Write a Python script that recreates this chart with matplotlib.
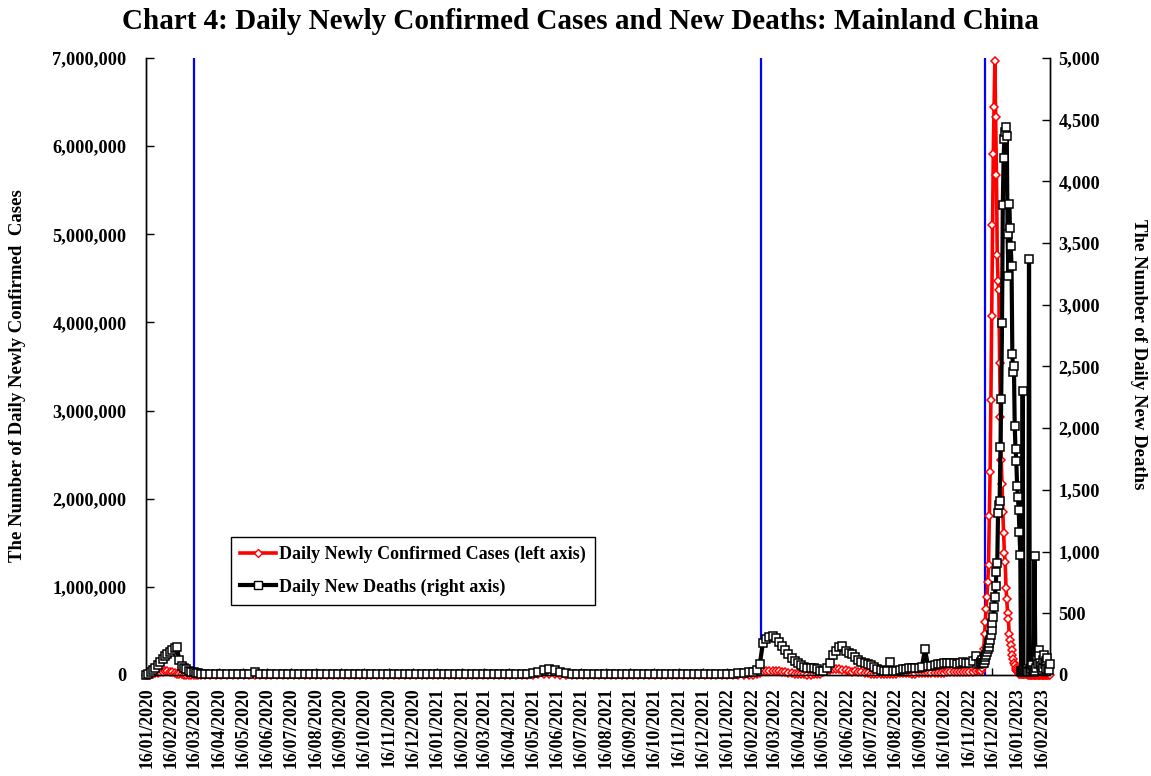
"""Chart 4: daily newly confirmed cases and new deaths in mainland China."""

import matplotlib

matplotlib.use("Agg")
import matplotlib.dates as mdates
import matplotlib.pyplot as plt
import pandas as pd
from matplotlib.lines import Line2D
from matplotlib.ticker import FuncFormatter, MultipleLocator

plt.rcParams["font.family"] = ["Liberation Serif", "DejaVu Serif"]
plt.rcParams["font.weight"] = "bold"

# --- data ----------------------------------------------------------------
# early 2020 outbreak, one reading every 3 days from 15/01/2020
wave2020_start = "2020-01-15"
wave2020_cases = [0, 2000, 6000, 12000, 18000, 24000, 30000, 35000, 40000, 42000,
                  38000, 30000, 22000, 15000, 9000, 6000, 4000, 2500, 1500, 1000,
                  800, 600, 500, 400]
wave2020_deaths = [0, 6, 20, 40, 60, 82, 105, 128, 150, 172,
                   190, 205, 218, 228, 120, 72, 55, 45, 35, 27,
                   20, 15, 12, 10]

# quiet period, weekly from 29/03/2020
quiet_start = "2020-03-29"
quiet_cases = [800, 600, 500, 400, 300, 300, 200, 200, 200, 200,
               300, 400, 300, 300, 200, 500, 800, 600, 400, 300,
               300, 200, 200, 200, 200, 200, 200, 200, 300, 300,
               300, 300, 200, 200, 300, 300, 400, 500, 600, 800,
               1200, 1500, 1500, 1000, 600, 400, 300, 200, 200, 200,
               200, 200, 200, 200, 200, 300, 400, 600, 2000, 5000,
               8000, 10000, 9000, 7000, 5000, 3000, 2000, 1500, 1500, 2000,
               2500, 1500, 1000, 800, 600, 500, 500, 600, 800, 1000,
               1200, 1500, 1800, 2000, 2500, 3000, 3000, 2500, 3000, 3500,
               4000, 4500, 3000, 2500, 2500, 3000, 3500, 4000, 4500]
quiet_deaths = [8, 7, 6, 6, 6, 5, 5, 6, 5, 25,
                4, 5, 6, 5, 5, 5, 4, 5, 5, 6,
                5, 5, 5, 4, 5, 5, 6, 5, 5, 5,
                4, 5, 5, 6, 5, 5, 5, 4, 5, 5,
                6, 5, 5, 5, 4, 5, 5, 6, 5, 5,
                5, 4, 5, 5, 6, 5, 5, 5, 8, 12,
                25, 40, 45, 40, 25, 12, 6, 5, 5, 5,
                4, 5, 5, 6, 5, 5, 5, 4, 5, 5,
                6, 5, 5, 5, 4, 5, 6, 5, 5, 5,
                6, 5, 6, 7, 8, 10, 12, 16, 20]

# 2022 spring and summer waves, every 4 days from 18/02/2022
wave2022_start = "2022-02-18"
wave2022_cases = [5000, 10000, 20000, 40000, 45000, 48000, 45000, 42000, 40000, 35000,
                  30000, 25000, 20000, 15000, 10000, 8000, 6000, 5000, 5000, 6000,
                  8000, 15000, 30000, 45000, 60000, 65000, 70000, 65000, 60000, 55000,
                  45000, 30000, 40000, 35000, 30000, 25000, 20000, 15000, 10000, 8000,
                  6000, 8000, 10000, 12000, 15000, 15000, 18000, 20000, 20000, 18000,
                  15000, 15000, 18000, 20000, 22000, 20000, 18000, 20000, 22000, 25000,
                  25000, 28000, 30000, 30000, 28000, 30000, 32000, 35000, 35000, 38000,
                  40000, 40000]
wave2022_deaths = [20, 40, 90, 259, 290, 310, 312, 302, 270, 235,
                   203, 170, 140, 112, 95, 80, 65, 55, 60, 55,
                   50, 30, 35, 60, 97, 162, 195, 225, 232, 195,
                   182, 172, 145, 125, 108, 95, 88, 80, 65, 50,
                   40, 35, 30, 108, 30, 35, 40, 45, 50, 55,
                   55, 60, 60, 65, 208, 70, 75, 80, 85, 90,
                   95, 100, 100, 95, 90, 100, 105, 95, 100, 110,
                   150, 90]

# reopening wave, daily from 01/12/2022
exit_start = "2022-12-01"
exit_cases = [40000, 50000, 80000, 150000, 300000, 470000, 600000, 750000, 890000, 1050000,
              1250000, 1800000, 2300000, 3120000, 4070000, 5110000, 5910000, 6440000, 6970000, 6330000,
              5670000, 4770000, 4470000, 4370000, 3540000, 2930000, 2440000, 2170000, 1850000, 1610000,
              1380000,
              1280000, 990000, 860000, 700000, 640000, 470000, 400000, 340000, 280000, 230000,
              180000, 140000, 110000, 80000, 60000, 45000, 30000, 20000, 15000, 12000,
              10000, 9000, 8000, 8000, 7000, 7000, 6000, 6000, 6000, 5000,
              5000,
              5000, 5000, 4000, 4000, 4000, 4000, 4000, 3000, 3000, 3000,
              3000, 3000, 3000, 3000, 2000, 2000, 2000, 2000, 2000, 2000,
              2000, 2000, 2000, 2000, 2000, 2000]
exit_deaths = [100, 105, 122, 100, 95, 120, 148, 165, 189, 210,
               230, 255, 284, 320, 365, 420, 473, 550, 634, 717,
               837, 906, 1315, 1380, 1413, 1845, 2237, 2850, 3809, 4192,
               4344,
               4400, 4438, 4370, 3571, 3233, 3817, 3625, 3479, 3317, 2601,
               2458, 2506, 2018, 1831, 1734, 1532, 1445, 1337, 1157, 973,
               35, 25, 2304, 30, 40, 25, 35, 50, 30, 20,
               3371,
               30, 60, 45, 80, 40, 25, 965, 30, 60, 120,
               90, 200, 150, 100, 70, 40, 60, 120, 160, 90,
               50, 110, 140, 60, 40, 90]

policy_dates = ["2020-03-16", "2022-02-28", "2022-12-07"]

segments = [
    (wave2020_start, "3D", wave2020_cases, wave2020_deaths),
    (quiet_start, "7D", quiet_cases, quiet_deaths),
    (wave2022_start, "4D", wave2022_cases, wave2022_deaths),
    (exit_start, "1D", exit_cases, exit_deaths),
]

dates, cases, deaths = [], [], []
for start, step, c, d in segments:
    dates.extend(pd.date_range(start, periods=len(c), freq=step))
    cases.extend(c)
    deaths.extend(d)

# --- figure --------------------------------------------------------------
fig = plt.figure(figsize=(11.51, 7.76), dpi=100)
ax = fig.add_axes([0.1268, 0.1302, 0.7855, 0.7951])
ax2 = ax.twinx()

for d in policy_dates:
    ax.axvline(pd.Timestamp(d), color="#0000ff", linewidth=1.6, zorder=1)

ax.plot(dates, cases, color="#ff0000", linewidth=2.6, marker="D", markersize=3.6,
        markerfacecolor="white", markeredgecolor="#ff0000", markeredgewidth=1.1,
        clip_on=False, zorder=3)
ax2.plot(dates, deaths, color="black", linewidth=3.0, marker="s", markersize=5.4,
         markerfacecolor="white", markeredgecolor="black", markeredgewidth=1.1,
         clip_on=False, zorder=3)

ax.set_xlim(pd.Timestamp("2020-01-15"), pd.Timestamp("2023-02-26 12:00"))
ax.set_ylim(0, 7_000_000)
ax2.set_ylim(0, 5000)

ax.xaxis.set_major_locator(mdates.MonthLocator(bymonthday=16))
ax.xaxis.set_major_formatter(mdates.DateFormatter("%d/%m/%Y"))
ax.yaxis.set_major_locator(MultipleLocator(1_000_000))
ax.yaxis.set_major_formatter(FuncFormatter(lambda v, _: f"{v:,.0f}"))
ax2.yaxis.set_major_locator(MultipleLocator(500))
ax2.yaxis.set_major_formatter(FuncFormatter(lambda v, _: f"{v:,.0f}"))

ax.tick_params(axis="x", direction="in", length=5, width=1, pad=9, labelsize=12.8,
               labelrotation=90)
ax.tick_params(axis="y", direction="in", length=6, width=1, pad=14, labelsize=13.2)
ax2.tick_params(axis="y", direction="in", length=6, width=1, pad=6, labelsize=13.2)
for lab in ax.get_xticklabels() + ax.get_yticklabels() + ax2.get_yticklabels():
    lab.set_fontweight("bold")

for a in (ax, ax2):
    a.spines["top"].set_visible(False)
    for side in ("left", "right", "bottom"):
        a.spines[side].set_linewidth(1.0)

ax.set_ylabel("The Number of Daily Newly Confirmed  Cases", fontsize=13.5, fontweight="bold")
ax.yaxis.set_label_coords(-0.1330, 0.486)
ax2.set_ylabel("The Number of Daily New Deaths", fontsize=13.5, fontweight="bold",
               rotation=270, va="center")
ax2.yaxis.set_label_coords(1.098, 0.52)

fig.suptitle("Chart 4: Daily Newly Confirmed Cases and New Deaths: Mainland China",
             x=0.504, y=0.972, va="center", fontsize=21, fontweight="bold")

handles = [
    Line2D([], [], color="#ff0000", linewidth=2.6, marker="D", markersize=4,
           markerfacecolor="white", markeredgecolor="#ff0000"),
    Line2D([], [], color="black", linewidth=3.0, marker="s", markersize=6,
           markerfacecolor="white", markeredgecolor="black"),
]
leg = ax2.legend(handles, ["Daily Newly Confirmed Cases (left axis)",
                           "Daily New Deaths (right axis)"],
                 loc="lower left", bbox_to_anchor=(0.094, 0.114), fancybox=False,
                 framealpha=1, edgecolor="black", handlelength=2.0, handletextpad=0.15,
                 borderpad=0.5, borderaxespad=0, labelspacing=0.85,
                 prop={"size": 13, "weight": "bold"})
leg.get_frame().set_linewidth(1.0)

fig.savefig("out.png", dpi=100)
